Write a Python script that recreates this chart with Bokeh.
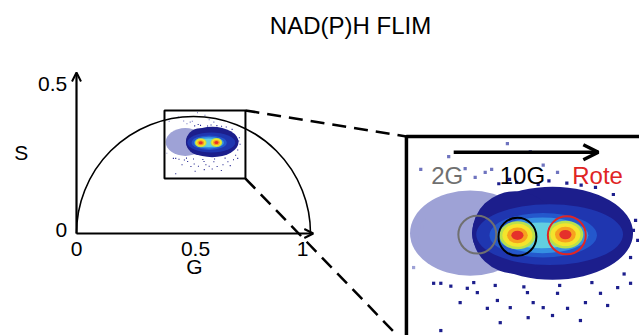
import math
from bokeh.plotting import figure
from bokeh.models import Range1d, Arrow, OpenHead
from bokeh.core.properties import value
from bokeh.embed import file_html
from bokeh.resources import INLINE

# ---------------- data (phasor units G, S) ----------------
TITLE = "NAD(P)H FLIM"
G_TICKS = [0.0, 0.5, 1.0]
G_TICK_LABELS = ["0", "0.5", "1"]
S_TICK_LABELS = ["0", "0.5"]
S_AXIS_TOP = 0.688

# zoom box on the phasor plot
BOX_LEFT, BOX_RIGHT, BOX_BOTTOM, BOX_TOP = 0.376, 0.722, 0.235, 0.526
MAG = 3.06
INSET_LEFT, INSET_TOP = 1.410, 0.4145

# density cloud as nested layers (outer -> inner)
LAYER_G = [0.465, 0.580, 0.528, 0.576, 0.567, 0.566, 0.565]
LAYER_S = [0.391, 0.391, 0.392, 0.389, 0.388, 0.388, 0.388]
LAYER_W = [0.168, 0.225, 0.120, 0.205, 0.150, 0.128, 0.108]
LAYER_H = [0.119, 0.130, 0.115, 0.085, 0.062, 0.050, 0.036]
LAYER_COLOR = ["#9ea2d6", "#1c1e8c", "#1c1e8c", "#1f36b0", "#2458cc", "#3590e2", "#62cfe0"]

# two hot spots
SPOT_G = [0.531, 0.598]
SPOT_S = [0.388, 0.389]
SPOT_W = [0.050, 0.042, 0.029, 0.017]
SPOT_H = [0.039, 0.032, 0.022, 0.013]
SPOT_COLOR = ["#b9e04c", "#f4e42c", "#f7a11f", "#e5302b"]

# sparse pixels around the cloud
SCAT_G = [0.517, 0.549, 0.435, 0.396, 0.458, 0.495, 0.567, 0.587, 0.472, 0.486,
          0.390, 0.398, 0.400, 0.393, 0.386,
          0.414, 0.424, 0.438, 0.461, 0.475, 0.503, 0.521, 0.507, 0.545, 0.553,
          0.567, 0.587, 0.601, 0.619, 0.626, 0.647, 0.657, 0.671, 0.689, 0.451,
          0.489, 0.546, 0.580, 0.424,
          0.693, 0.699, 0.689, 0.696,
          0.505, 0.530, 0.560, 0.600, 0.640, 0.665, 0.520, 0.575, 0.620,
          0.470, 0.500, 0.540, 0.590, 0.635, 0.680]
SCAT_S = [0.516, 0.505, 0.498, 0.480, 0.481, 0.480, 0.486, 0.476, 0.469, 0.476,
          0.385, 0.399, 0.409, 0.370, 0.343,
          0.321, 0.321, 0.317, 0.314, 0.308, 0.297, 0.287, 0.266, 0.308, 0.294,
          0.287, 0.307, 0.286, 0.269, 0.294, 0.307, 0.290, 0.315, 0.321, 0.294,
          0.286, 0.273, 0.276, 0.255,
          0.395, 0.381, 0.357, 0.409,
          0.460, 0.462, 0.459, 0.461, 0.455, 0.445, 0.466, 0.464, 0.458,
          0.322, 0.318, 0.316, 0.318, 0.322, 0.334]
SCAT_COLOR = (["#6f74bf"] * 10 + ["#9ea2d6"] * 5 + ["#1c1e8c"] * 24 + ["#1c1e8c"] * 4
              + ["#1c1e8c"] * 9 + ["#1c1e8c"] * 6)
PIX = 0.0045

# regions of interest in the inset
ROI_LABELS = ["2G", "10G", "Rote"]
ROI_G = [0.475, 0.531, 0.600]
ROI_S = [0.389, 0.386, 0.388]
ROI_R = 0.0265
ROI_COLOR = ["#707070", "#000000", "#e02424"]
ROI_LABEL_G = [0.433, 0.538, 0.643]
ROI_LABEL_S = 0.472
ARROW_G = [0.442, 0.644]
ARROW_S = 0.504

FONT = value("Liberation Sans")


def ig(g):
    return INSET_LEFT + (g - BOX_LEFT) * MAG


def is_(s):
    return INSET_TOP - (BOX_TOP - s) * MAG


p = figure(width=639, height=335, output_backend="svg", toolbar_location=None,
           x_range=Range1d(-0.3248, 2.4060), y_range=Range1d(-0.4359, 0.9957),
           min_border=0, outline_line_color=None)
p.axis.visible = False
p.grid.visible = False
p.background_fill_color = "white"
p.border_fill_color = "white"

# connector dashed lines
p.line([BOX_RIGHT, INSET_LEFT], [BOX_TOP, INSET_TOP], line_color="black",
       line_width=2.5, line_dash="14 8")
p.line([BOX_RIGHT, INSET_LEFT], [BOX_BOTTOM, is_(BOX_BOTTOM)], line_color="black",
       line_width=2.5, line_dash="14 8")


def draw_cloud(tx, ty, scale):
    p.ellipse(x=[tx(g) for g in LAYER_G], y=[ty(s) for s in LAYER_S],
              width=[w * scale for w in LAYER_W], height=[h * scale for h in LAYER_H],
              fill_color=LAYER_COLOR, line_color=None)
    for w, h, c in zip(SPOT_W, SPOT_H, SPOT_COLOR):
        p.ellipse(x=[tx(g) for g in SPOT_G], y=[ty(s) for s in SPOT_S],
                  width=w * scale, height=h * scale, fill_color=c, line_color=None)
    p.rect(x=[tx(g) for g in SCAT_G], y=[ty(s) for s in SCAT_S],
           width=PIX * scale, height=PIX * scale, fill_color=SCAT_COLOR, line_color=None)


# main phasor plot
draw_cloud(lambda g: g, lambda s: s, 1.0)
p.arc(x=0.5, y=0, radius=0.5, start_angle=0, end_angle=math.pi,
      line_color="black", line_width=1.6)
p.add_layout(Arrow(end=OpenHead(size=9, line_width=2), x_start=0, y_start=0,
                   x_end=0, y_end=S_AXIS_TOP, line_width=2.2))
p.add_layout(Arrow(end=OpenHead(size=9, line_width=2), x_start=0, y_start=0,
                   x_end=1.012, y_end=0, line_width=2.2))
p.quad(left=BOX_LEFT, right=BOX_RIGHT, bottom=BOX_BOTTOM, top=BOX_TOP,
       fill_alpha=0, line_color="black", line_width=2)

p.text(x=G_TICKS, y=[-0.068] * 3, text=G_TICK_LABELS, text_align="center",
       text_baseline="middle", text_font=FONT, text_font_size="21px",
       x_offset=[0, 2, -8], text_color="black")
p.text(x=[-0.040, -0.040], y=[0.017, S_AXIS_TOP - 0.051], text=S_TICK_LABELS,
       text_align="right", text_baseline="middle", text_font=FONT,
       text_font_size="21px", text_color="black")
p.text(x=[-0.236], y=[0.348], text=["S"], text_align="center",
       text_baseline="middle", text_font=FONT, text_font_size="21px")
p.text(x=[0.504], y=[-0.143], text=["G"], text_align="center",
       text_baseline="middle", text_font=FONT, text_font_size="21px")
p.text(x=[1.171], y=[0.889], text=[TITLE], text_align="center",
       text_baseline="middle", text_font=FONT, text_font_size="24px")

# inset (magnified box)
draw_cloud(ig, is_, MAG)
p.ellipse(x=[ig(g) for g in ROI_G], y=[is_(s) for s in ROI_S],
          width=2 * ROI_R * MAG, height=2 * ROI_R * MAG, fill_alpha=0,
          line_color=ROI_COLOR, line_width=2)
p.quad(left=INSET_LEFT, right=INSET_LEFT + (BOX_RIGHT - BOX_LEFT) * MAG,
       bottom=INSET_TOP - (BOX_TOP - BOX_BOTTOM) * MAG, top=INSET_TOP,
       fill_alpha=0, line_color="black", line_width=3.5)
p.add_layout(Arrow(end=OpenHead(size=15, line_width=3.5),
                   x_start=ig(ARROW_G[0]), y_start=is_(ARROW_S),
                   x_end=ig(ARROW_G[1]), y_end=is_(ARROW_S), line_width=3.5))
p.text(x=[ig(g) for g in ROI_LABEL_G], y=[is_(ROI_LABEL_S)] * 3, text=ROI_LABELS,
       text_align="center", text_baseline="middle", text_font=FONT,
       text_font_size="24px", text_color=ROI_COLOR)

open("out.html", "w").write(file_html(p, INLINE))
